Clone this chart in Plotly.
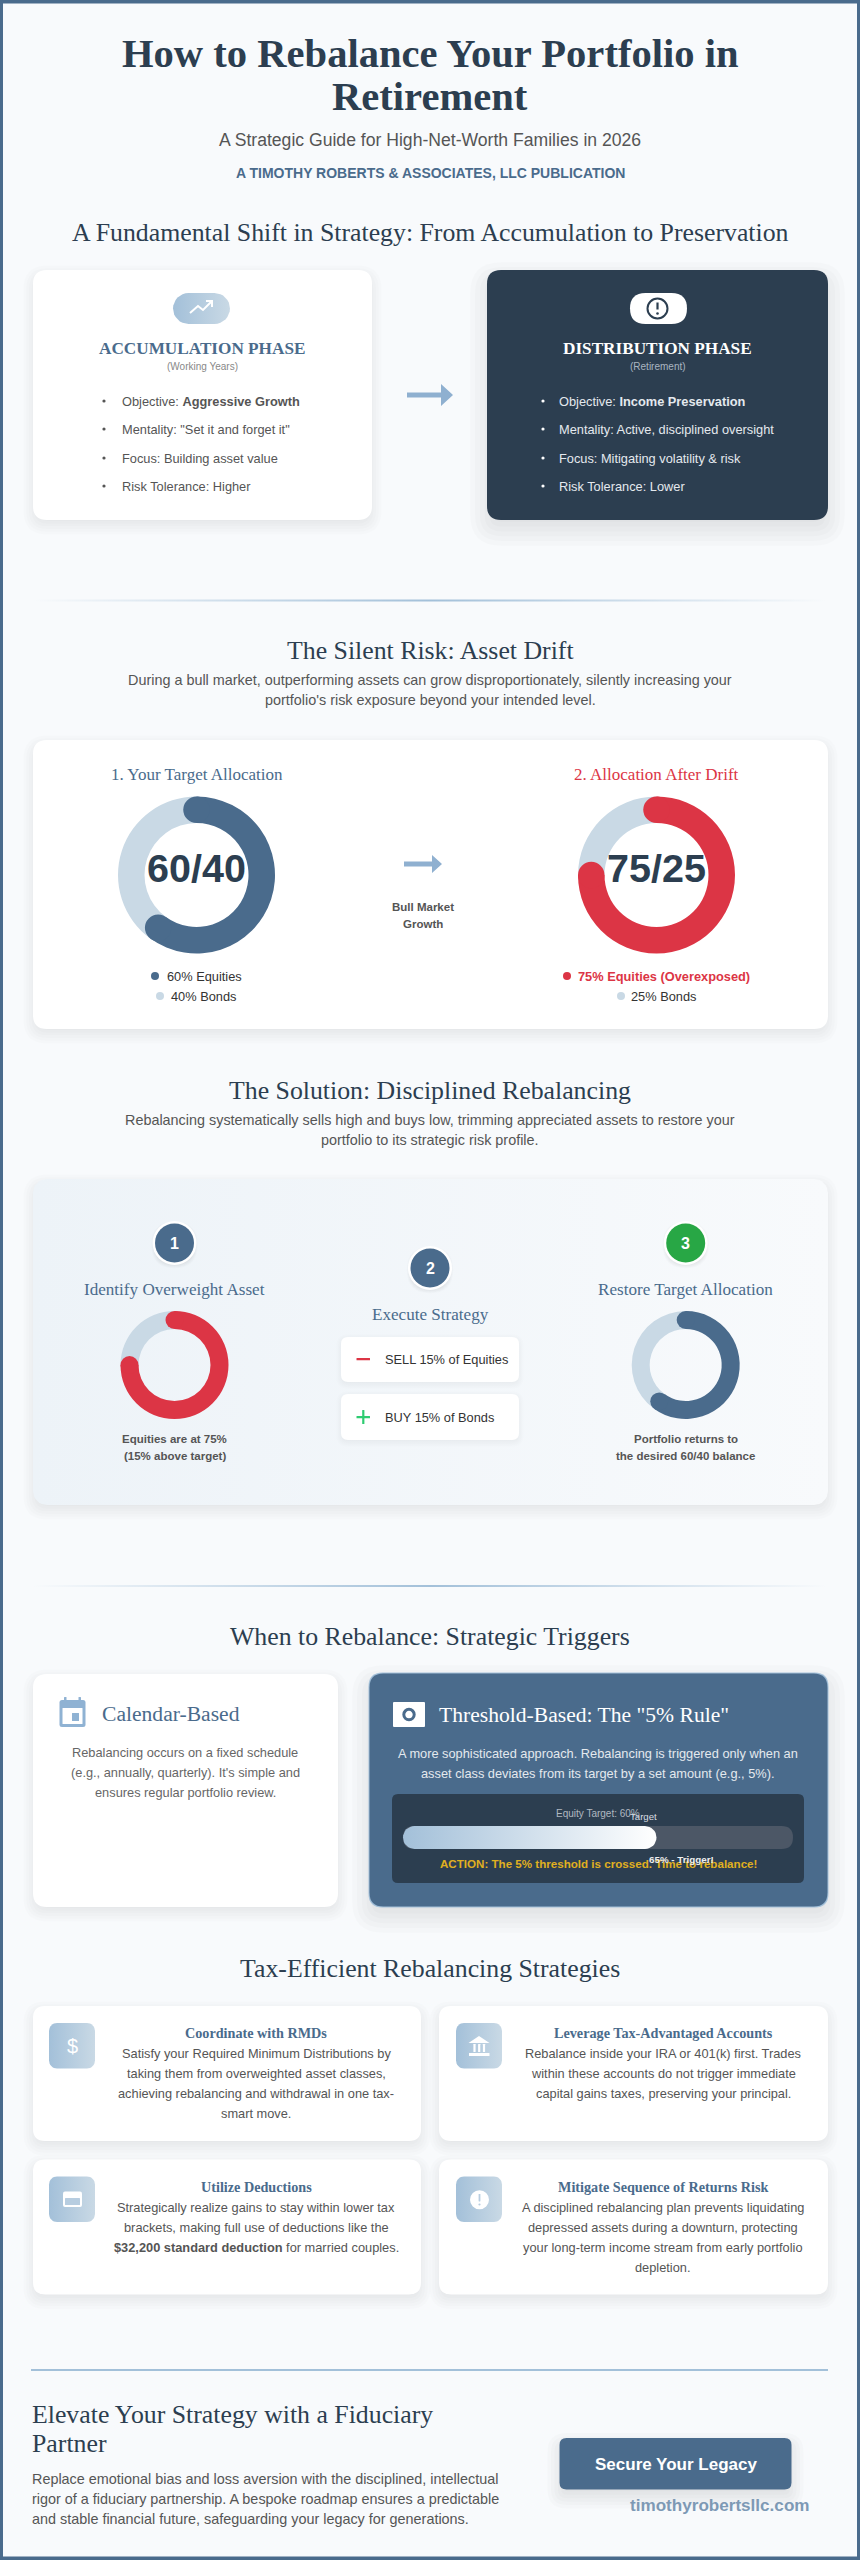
import math
import plotly.graph_objects as go

W, H = 860, 2560
SERIF = "Liberation Serif"
SANS = "Liberation Sans"
NAVY = "#2c3e50"
BLUE = "#4a6b8c"
SKY = "#a3c0d9"
PALE = "#c9d9e5"
RED = "#dc3545"
GREEN = "#28a745"
GREY = "#555555"
PAGE = "#f8fafc"

# chart values
target_alloc = [60, 40]
drift_alloc = [75, 25]
trigger_value = 65

accum_items = ['Objective: <b>Aggressive Growth</b>', 'Mentality: "Set it and forget it"',
               'Focus: Building asset value', 'Risk Tolerance: Higher']
distrib_items = ['Objective: <b>Income Preservation</b>', 'Mentality: Active, disciplined oversight',
                 'Focus: Mitigating volatility &amp; risk', 'Risk Tolerance: Lower']
drift_lines = ["During a bull market, outperforming assets can grow disproportionately, silently increasing your",
               "portfolio's risk exposure beyond your intended level."]
solution_lines = ["Rebalancing systematically sells high and buys low, trimming appreciated assets to restore your",
                  "portfolio to its strategic risk profile."]
calendar_lines = ["Rebalancing occurs on a fixed schedule", "(e.g., annually, quarterly). It's simple and",
                  "ensures regular portfolio review."]
threshold_lines = ["A more sophisticated approach. Rebalancing is triggered only when an",
                   "asset class deviates from its target by a set amount (e.g., 5%)."]
tax_titles = ["Coordinate with RMDs", "Leverage Tax-Advantaged Accounts", "Utilize Deductions",
              "Mitigate Sequence of Returns Risk"]
tax_lines = [
    ["Satisfy your Required Minimum Distributions by", "taking them from overweighted asset classes,",
     "achieving rebalancing and withdrawal in one tax-", "smart move."],
    ["Rebalance inside your IRA or 401(k) first. Trades", "within these accounts do not trigger immediate",
     "capital gains taxes, preserving your principal."],
    ["Strategically realize gains to stay within lower tax", "brackets, making full use of deductions like the",
     "<b>$32,200 standard deduction</b> for married couples."],
    ["A disciplined rebalancing plan prevents liquidating", "depressed assets during a downturn, protecting",
     "your long-term income stream from early portfolio", "depletion."],
]
footer_lines = ["Replace emotional bias and loss aversion with the disciplined, intellectual",
                "rigor of a fiduciary partnership. A bespoke roadmap ensures a predictable",
                "and stable financial future, safeguarding your legacy for generations."]

fig = go.Figure()
shapes = []
notes = []


def rr_path(x0, y0, x1, y1, r):
    return (f"M{x0+r},{y0} L{x1-r},{y0} Q{x1},{y0} {x1},{y0+r} L{x1},{y1-r} Q{x1},{y1} {x1-r},{y1} "
            f"L{x0+r},{y1} Q{x0},{y1} {x0},{y1-r} L{x0},{y0+r} Q{x0},{y0} {x0+r},{y0} Z")


def rect(x0, y0, x1, y1, r, color, layer="below", opacity=1.0):
    shapes.append(dict(type="path", path=rr_path(x0, y0, x1, y1, r), fillcolor=color, opacity=opacity,
                       line=dict(width=0), layer=layer))


def shadow(x0, y0, x1, y1, r, dy, blur, alpha, layer="below"):
    # stacked translucent rects standing in for a css box-shadow
    steps = 8
    for i in range(steps):
        e = blur * (0.6 - 1.2 * i / (steps - 1))
        rect(x0 - e, y0 + dy - e, x1 + e, y1 + dy + e, max(r + e, 1), "#000000", layer=layer, opacity=alpha / steps)


def card(x0, y0, x1, y1, r=14, color="#ffffff", dy=5, blur=16, alpha=0.08, layer="below"):
    shadow(x0, y0, x1, y1, r, dy, blur, alpha, layer)
    rect(x0, y0, x1, y1, r, color, layer)


def gradient_rect(x0, y0, x1, y1, r, stops):
    xs, ys = [], []
    corners = [(x1 - r, y0 + r, -90), (x1 - r, y1 - r, 0), (x0 + r, y1 - r, 90), (x0 + r, y0 + r, 180)]
    for cx, cy, start in corners:
        for k in range(9):
            a = math.radians(start + k * 90 / 8)
            xs.append(cx + r * math.cos(a))
            ys.append(cy + r * math.sin(a))
    xs.append(xs[0])
    ys.append(ys[0])
    fig.add_trace(go.Scatter(x=xs, y=ys, mode="lines", fill="toself", line=dict(width=0),
                             fillgradient=dict(type="horizontal", colorscale=stops),
                             hoverinfo="skip", showlegend=False))


def circle(cx, cy, r, color, layer="above", line=None, lw=0):
    shapes.append(dict(type="circle", x0=cx - r, x1=cx + r, y0=cy - r, y1=cy + r, fillcolor=color,
                       line=dict(width=lw, color=line) if lw else dict(width=0), layer=layer))


def stroke(path, color, width, layer="above"):
    shapes.append(dict(type="path", path=path, line=dict(color=color, width=width), layer=layer))


def fill(path, color, layer="above"):
    shapes.append(dict(type="path", path=path, fillcolor=color, line=dict(width=0), layer=layer))


def txt(x, y, text, size, color=GREY, family=SANS, anchor="center"):
    notes.append(dict(x=x, y=y, text=text, showarrow=False, xanchor=anchor, yanchor="middle", borderpad=0,
                      font=dict(family=family, size=size, color=color), align=anchor))


def arrow(x0, x1, y, thick, head_w, head_h, color):
    hx = x1 - head_w
    fill(f"M{x0},{y-thick/2} L{hx},{y-thick/2} L{hx},{y-head_h/2} L{x1},{y} L{hx},{y+head_h/2} "
         f"L{hx},{y+thick/2} L{x0},{y+thick/2} Z", color)


def donut(cx, cy, outer, inner, values, color):
    # values[0] starts at 12 o'clock, clockwise; ends get round caps
    fig.add_trace(go.Pie(values=values, sort=False, direction="clockwise", rotation=0,
                         hole=inner / outer, textinfo="none", hoverinfo="skip", showlegend=False,
                         marker=dict(colors=[color, PALE], line=dict(width=0)),
                         domain=dict(x=[(cx - outer) / W, (cx + outer) / W],
                                     y=[1 - (cy + outer) / H, 1 - (cy - outer) / H])))
    mid = (outer + inner) / 2
    cap = (outer - inner) / 2
    end = math.radians(values[0] / sum(values) * 360)
    circle(cx, cy - mid, cap, color)
    circle(cx + mid * math.sin(end), cy - mid * math.cos(end), cap, color)


def section(y, text):
    txt(430, y, text, 25.8, NAVY, SERIF)


def divider(y):
    gradient_rect(33, y - 1, 827, y + 1, 0.5, [[0, "rgba(163,192,217,0)"], [0.5, SKY], [1, "rgba(163,192,217,0)"]])


# ---- header
txt(430, 53, "<b>How to Rebalance Your Portfolio in</b>", 40.6, NAVY, SERIF)
txt(430, 96, "<b>Retirement</b>", 40.6, NAVY, SERIF)
txt(430, 140, "A Strategic Guide for High-Net-Worth Families in 2026", 17.6, GREY)
txt(430, 173, "<b>A TIMOTHY ROBERTS &amp; ASSOCIATES, LLC PUBLICATION</b>", 14, BLUE)

# ---- accumulation vs distribution
section(232, "A Fundamental Shift in Strategy: From Accumulation to Preservation")
card(33, 270, 372, 520)
card(487, 270, 828, 520, color=NAVY, dy=9, blur=28, alpha=0.12)

gradient_rect(173, 293, 230, 324, 15.5, [[0, SKY], [1, PALE]])
stroke("M190,313 L198,306 L203,310 L212,301", "#ffffff", 2)
stroke("M206,301 L212,301 L212,307", "#ffffff", 2)
txt(202, 348, "<b>ACCUMULATION PHASE</b>", 17.2, BLUE, SERIF)
txt(202, 366, "(Working Years)", 10, "#888888")
for y, item in zip([401, 429, 458, 486], accum_items):
    circle(104, y, 1.6, GREY)
    txt(121, y, item, 12.8, GREY, anchor="left")

rect(630, 293, 687, 324, 15.5, "#ffffff")
circle(657.5, 308.5, 10, "#ffffff", line=NAVY, lw=2)
stroke("M657.5,302.5 L657.5,309.5", NAVY, 2.2)
circle(657.5, 313.5, 1.3, NAVY)
txt(657.5, 348, "<b>DISTRIBUTION PHASE</b>", 17.2, "#ffffff", SERIF)
txt(657.5, 366, "(Retirement)", 10, "#a9b5c0")
for y, item in zip([401, 429, 458, 486], distrib_items):
    circle(543, y, 1.6, "#ffffff")
    txt(558, y, item, 12.8, "#e4e9ee", anchor="left")

arrow(407, 453, 395, 5, 12, 22, "#8fb0d0")

divider(600.5)

# ---- asset drift
section(650, "The Silent Risk: Asset Drift")
for y, line in zip([680, 700], drift_lines):
    txt(430, y, line, 14.4, GREY)
card(33, 740, 828, 1029)
txt(196.5, 774, "1. Your Target Allocation", 17, BLUE, SERIF)
txt(656.5, 774, "2. Allocation After Drift", 17, RED, SERIF)
donut(196.5, 875, 78.5, 52, target_alloc, BLUE)
donut(656.5, 875, 78.5, 52, drift_alloc, RED)
txt(196.5, 868, f"<b>{target_alloc[0]}/{target_alloc[1]}</b>", 39.5, NAVY)
txt(656.5, 868, f"<b>{drift_alloc[0]}/{drift_alloc[1]}</b>", 39.5, NAVY)
circle(155, 976, 4, BLUE)
txt(165.5, 976, f"{target_alloc[0]}% Equities", 12.8, "#333333", anchor="left")
circle(160, 996, 4, PALE)
txt(170, 996, f"{target_alloc[1]}% Bonds", 12.8, "#333333", anchor="left")
circle(567, 976, 4, RED)
txt(577, 976, f"<b>{drift_alloc[0]}% Equities (Overexposed)</b>", 12.8, RED, anchor="left")
circle(621, 996, 4, PALE)
txt(630, 996, f"{drift_alloc[1]}% Bonds", 12.8, "#333333", anchor="left")
arrow(404, 442, 864, 5, 10, 18, "#8fb0d0")
txt(422.5, 907, "<b>Bull Market</b>", 11.5, GREY)
txt(422.5, 924, "<b>Growth</b>", 11.5, GREY)

# ---- solution
section(1090, "The Solution: Disciplined Rebalancing")
for y, line in zip([1120, 1140], solution_lines):
    txt(430, y, line, 14.4, GREY)
shadow(33, 1179, 828, 1505, 14, 5, 16, 0.08)
gradient_rect(33, 1179, 828, 1505, 14, [[0, "#edf3f8"], [1, "#f8fafc"]])
for cx, cy, num, col in [(174.5, 1243, "1", BLUE), (430, 1268, "2", BLUE), (685.7, 1243, "3", GREEN)]:
    shadow(cx - 21, cy - 21, cx + 21, cy + 21, 21, 2, 4, 0.1, layer="above")
    circle(cx, cy, 22, "#ffffff")
    circle(cx, cy, 19.5, col)
    txt(cx, cy, f"<b>{num}</b>", 16, "#ffffff")
txt(174.5, 1289, "Identify Overweight Asset", 17.1, BLUE, SERIF)
txt(430, 1314, "Execute Strategy", 17.1, BLUE, SERIF)
txt(685.7, 1289, "Restore Target Allocation", 17.1, BLUE, SERIF)
donut(174.5, 1365, 54, 36, drift_alloc, RED)
donut(685.7, 1365, 54, 36, target_alloc, BLUE)
txt(174.5, 1439, "<b>Equities are at 75%</b>", 11.5, GREY)
txt(174.5, 1456, "<b>(15% above target)</b>", 11.5, GREY)
txt(685.7, 1439, "<b>Portfolio returns to</b>", 11.5, GREY)
txt(685.7, 1456, "<b>the desired 60/40 balance</b>", 11.5, GREY)
card(341, 1337, 519, 1382, r=7, dy=2, blur=8, alpha=0.07, layer="above")
card(341, 1394, 519, 1440, r=7, dy=2, blur=8, alpha=0.07, layer="above")
rect(356.5, 1358, 370, 1360.2, 0.3, RED, layer="above")
rect(356.5, 1416, 370, 1418.2, 0.3, "#2ecc71", layer="above")
rect(362.2, 1410, 364.4, 1424, 0.3, "#2ecc71", layer="above")
txt(383.5, 1359.5, "SELL 15% of Equities", 12.8, "#333333", anchor="left")
txt(383.5, 1417, "BUY 15% of Bonds", 12.8, "#333333", anchor="left")

divider(1586)

# ---- triggers
section(1636, "When to Rebalance: Strategic Triggers")
card(33, 1674, 338, 1907)
shadow(369, 1673, 828, 1907, 14, 9, 28, 0.12)
rect(368.5, 1672.5, 828.5, 1907.5, 14, SKY)
rect(369.5, 1673.5, 827.5, 1906.5, 14, BLUE)

# calendar icon
CAL = "#8fb2d3"
rect(59.5, 1700, 85.5, 1727, 2.5, CAL, layer="above")
rect(62.5, 1708, 82.5, 1724, 0.5, "#ffffff", layer="above")
rect(64, 1697, 66.5, 1702, 0.5, CAL, layer="above")
rect(78.5, 1697, 81, 1702, 0.5, CAL, layer="above")
rect(72, 1713, 79, 1721, 0.3, CAL, layer="above")
txt(101, 1714, "Calendar-Based", 21.6, BLUE, SERIF, anchor="left")
for y, line in zip([1752, 1772, 1792], calendar_lines):
    txt(185, y, line, 12.8, "#666666")

# threshold icon
rect(393, 1702, 425, 1727, 1, "#ffffff", layer="above")
circle(409, 1714.5, 5.2, "#ffffff", line=BLUE, lw=3)
txt(438, 1715, 'Threshold-Based: The "5% Rule"', 21.6, "#ffffff", SERIF, anchor="left")
for y, line in zip([1753, 1773], threshold_lines):
    txt(598, y, line, 12.8, "#e4e9ee")
rect(392, 1794, 804, 1883, 6, NAVY)
bar_x0, bar_x1 = 403, 793
rect(bar_x0, 1826, bar_x1, 1849, 11.5, "#4c5766")
bar_end = bar_x0 + (bar_x1 - bar_x0) * trigger_value / 100
gradient_rect(bar_x0, 1826, bar_end, 1849, 11.5, [[0, SKY], [1, "#ffffff"]])
txt(598, 1813, "Equity Target: 60%", 10, "#b0b8c0")
txt(643.5, 1816, "Target", 9.6, "#d8dde2")
txt(598.5, 1863, "<b>ACTION: The 5% threshold is crossed. Time to rebalance!</b>", 11.6, "#e0b020")
txt(681.5, 1859, "<b>65% - Trigger!</b>", 9.8, "#eeeeee")

# ---- tax strategies
section(1968.5, "Tax-Efficient Rebalancing Strategies")
tile_x = [49, 456]
row_y = [2006, 2159.5]
cols = [(33, 421, 256), (439, 828, 663)]
for idx in range(4):
    col, row = idx % 2, idx // 2
    x0, x1, cx = cols[col]
    y0 = row_y[row]
    card(x0, y0, x1, y0 + 135, r=12)
    gradient_rect(tile_x[col], y0 + 17, tile_x[col] + 46, y0 + 62.5, 8, [[0, SKY], [1, PALE]])
    txt(cx, y0 + 27, f"<b>{tax_titles[idx]}</b>", 14.2, BLUE, SERIF)
    for j, line in enumerate(tax_lines[idx]):
        txt(cx, y0 + 47.5 + j * 20.1, line, 12.8, GREY)

# tile glyphs
txt(72, 2046, "$", 20, "#ffffff")
fill("M479,2036 L489.5,2043 L468.5,2043 Z", "#ffffff")
for cx in (474.5, 479.2, 484):
    rect(cx - 1.1, 2044, cx + 1.1, 2052, 0.2, "#ffffff", layer="above")
rect(469, 2053, 489.5, 2056, 0.3, "#ffffff", layer="above")
rect(63, 2191.5, 82, 2207, 2, "#ffffff", layer="above")
rect(65, 2198, 80, 2205, 0.5, "#b7cde0", layer="above")
circle(479.5, 2199.8, 9.5, "#ffffff")
rect(478.6, 2194, 480.4, 2201.5, 0.4, "#b7cde0", layer="above")
circle(479.5, 2204.5, 1.1, "#b7cde0")

# ---- footer
shapes.append(dict(type="line", x0=31, x1=828, y0=2370, y1=2370, line=dict(color=SKY, width=2), layer="below"))
txt(31, 2414, "Elevate Your Strategy with a Fiduciary", 25.8, NAVY, SERIF, anchor="left")
txt(31, 2443, "Partner", 25.8, NAVY, SERIF, anchor="left")
for y, line in zip([2478.5, 2498.5, 2518.5], footer_lines):
    txt(31, y, line, 14.4, GREY, anchor="left")
card(559.5, 2438, 791.5, 2489.5, r=7, color=BLUE, dy=7, blur=20, alpha=0.12)
txt(675.5, 2464, "<b>Secure Your Legacy</b>", 17, "#ffffff")
txt(811, 2505.5, "<b>timothyrobertsllc.com</b>", 17.1, "#7d99b5", anchor="right")

# page border
for b in [(0, 0, W, 3.5), (0, H - 3.5, W, H), (0, 0, 3, H), (W - 3, 0, W, H)]:
    shapes.append(dict(type="rect", x0=b[0], y0=b[1], x1=b[2], y1=b[3], fillcolor=BLUE,
                       line=dict(width=0), layer="above"))

fig.update_layout(
    width=W, height=H,
    margin=dict(l=0, r=0, t=0, b=0),
    paper_bgcolor=PAGE, plot_bgcolor=PAGE,
    showlegend=False,
    xaxis=dict(range=[0, W], visible=False, fixedrange=True),
    yaxis=dict(range=[H, 0], visible=False, fixedrange=True),
    shapes=shapes,
    annotations=notes,
)

fig.write_html("out.html", config=dict(displayModeBar=False),
               post_script="document.body.style.margin='0';")
